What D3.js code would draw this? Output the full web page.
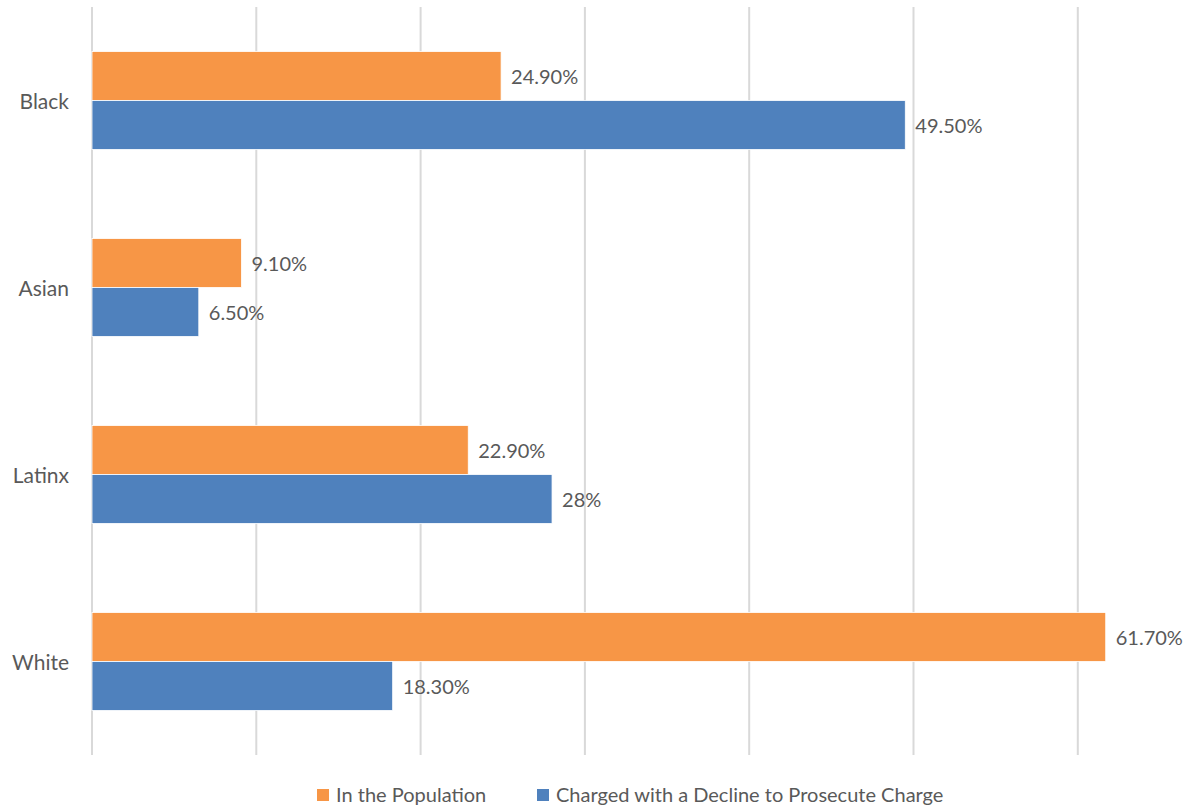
<!DOCTYPE html>
<html><head><meta charset="utf-8">
<script src="https://cdn.jsdelivr.net/npm/d3@7"></script>
<style>body{margin:0;background:#fff;} svg{display:block;}</style>
</head><body>
<svg id="c" width="1190" height="810"></svg>
<script>
const categories = ["Black", "Asian", "Latinx", "White"];
const seriesNames = ["In the Population", "Charged with a Decline to Prosecute Charge"];
const population = [24.9, 9.1, 22.9, 61.7];
const charged = [49.5, 6.5, 28, 18.3];
const populationLabels = ["24.90%", "9.10%", "22.90%", "61.70%"];
const chargedLabels = ["49.50%", "6.50%", "28%", "18.30%"];
const xTicks = [0, 10, 20, 30, 40, 50, 60];
const colors = ["#F79646", "#4F81BD"];

(function () {
const font = "Lato, 'Open Sans', sans-serif";
const textColor = "#595959";
const svg = d3.select("#c");
const mLeft = 92, mTop = 7, mBottom = 755;

const x = d3.scaleLinear().domain([0, 62]).range([mLeft, mLeft + 62 * 16.43]);
const y = d3.scaleBand().domain(categories).range([mTop, mBottom]).paddingInner(89/187).paddingOuter(89/187/2);
const ySub = d3.scaleBand().domain([0, 1]).range([0, y.bandwidth()]);

svg.append("g").selectAll("line").data(xTicks).join("line")
  .attr("x1", d => x(d)).attr("x2", d => x(d))
  .attr("y1", mTop).attr("y2", mBottom)
  .attr("stroke", "#d9d9d9").attr("stroke-width", 2);

const data = categories.map((c, i) => ({c, vals: [population[i], charged[i]], labels: [populationLabels[i], chargedLabels[i]]}));

const groups = svg.append("g").selectAll("g").data(data).join("g")
  .attr("transform", d => `translate(0,${y(d.c)})`);

groups.selectAll("rect").data(d => d.vals.map((v, k) => ({v, k}))).join("rect")
  .attr("x", x(0)).attr("y", d => ySub(d.k))
  .attr("width", d => x(d.v) - x(0)).attr("height", ySub.bandwidth())
  .attr("fill", d => colors[d.k])
  .attr("stroke", "#fff").attr("stroke-width", 0.8);

groups.selectAll("text").data(d => d.vals.map((v, k) => ({v, k, l: d.labels[k]}))).join("text")
  .attr("x", d => x(d.v) + 10).attr("y", d => ySub(d.k) + ySub.bandwidth() / 2 + 1)
  .attr("dy", "0.35em")
  .attr("font-family", font).attr("font-size", 20).attr("fill", textColor)
  .text(d => d.l);

svg.append("g").selectAll("text").data(categories).join("text")
  .attr("x", 69).attr("y", d => y(d) + y.bandwidth() / 2 + 1)
  .attr("dy", "0.35em").attr("text-anchor", "end")
  .attr("font-family", font).attr("font-size", 21).attr("fill", textColor)
  .text(d => d);

const legendItems = [{x: 317, name: seriesNames[0], color: colors[0]}, {x: 537, name: seriesNames[1], color: colors[1]}];
const lg = svg.append("g").selectAll("g").data(legendItems).join("g")
  .attr("transform", d => `translate(${d.x},795)`);
lg.append("rect").attr("x", 0).attr("y", -6).attr("width", 12).attr("height", 12).attr("fill", d => d.color);
lg.append("text").attr("x", 19).attr("y", 0).attr("dy", "0.35em")
  .attr("font-family", font).attr("font-size", 20).attr("fill", textColor)
  .text(d => d.name);
})();
</script>
</body></html>
